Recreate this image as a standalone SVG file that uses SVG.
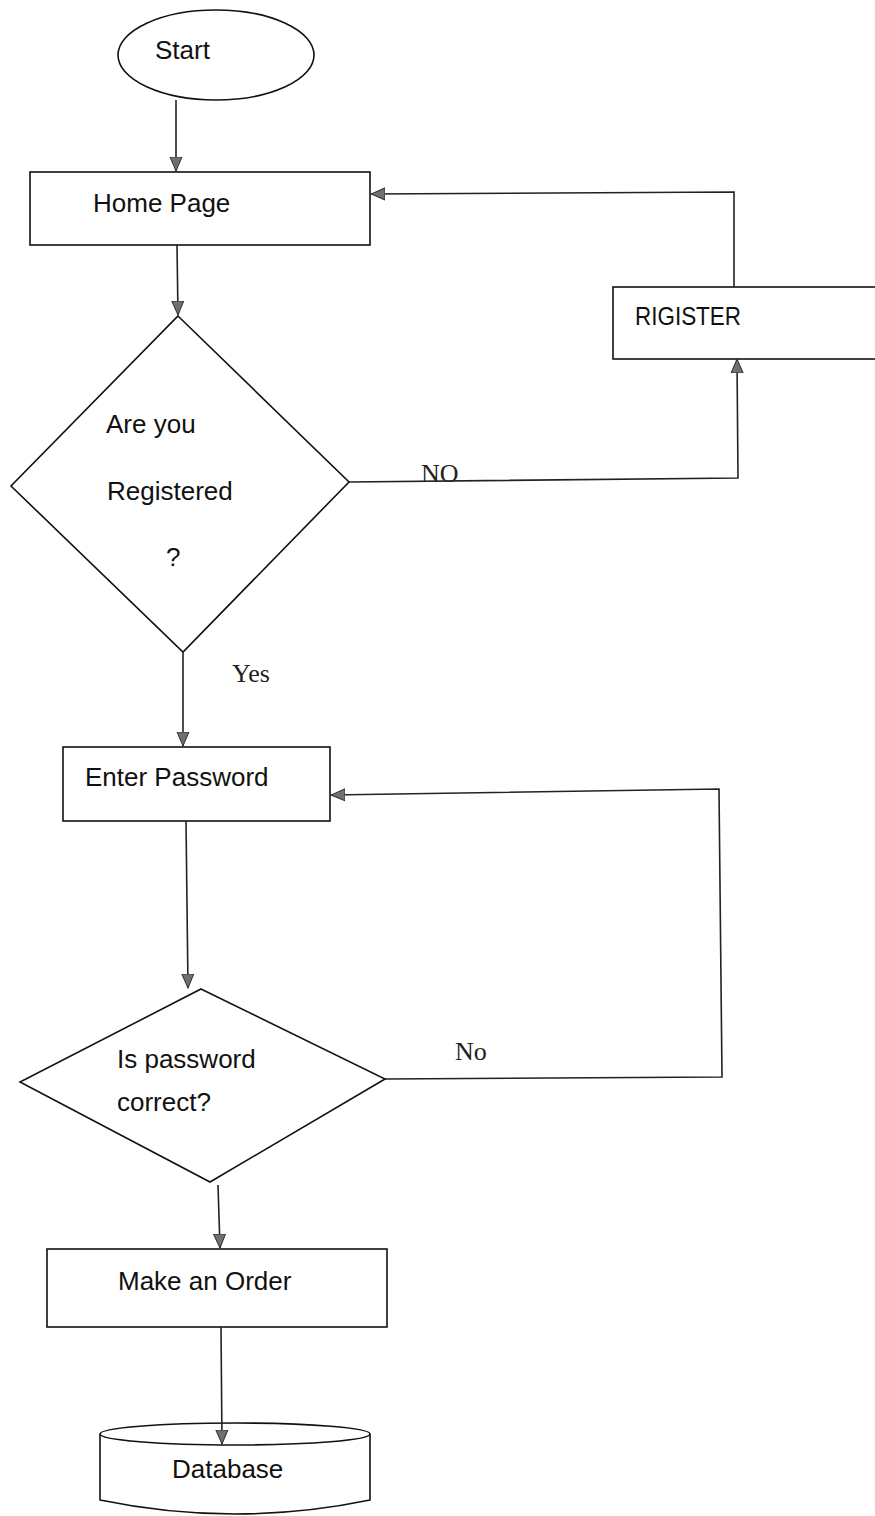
<svg xmlns="http://www.w3.org/2000/svg" width="875" height="1516" viewBox="0 0 875 1516">
<style>
.shape{fill:#fff;stroke:#111;stroke-width:1.6}
.conn{fill:none;stroke:#222;stroke-width:1.6}
.lbl{font-family:"Liberation Sans",Arial,sans-serif;font-size:26px;fill:#111}
.edge{font-family:"Liberation Serif","Times New Roman",serif;font-size:26px;fill:#222}
</style>
<defs>
<marker id="arr" markerUnits="userSpaceOnUse" markerWidth="15" markerHeight="14" refX="14" refY="7" orient="auto">
<path d="M0,1 L14,7 L0,13 z" fill="#707070" stroke="#333" stroke-width="1"/>
</marker>
</defs>
<rect width="875" height="1516" fill="#fff"/>
<g id="start">
<ellipse class="shape" cx="216" cy="55" rx="98" ry="45"/>
<text class="lbl" x="155" y="59">Start</text>
</g>
<g id="home">
<rect class="shape" x="30" y="172" width="340" height="73"/>
<text class="lbl" x="93" y="212">Home Page</text>
</g>
<g id="register">
<rect class="shape" x="613" y="287" width="270" height="72"/>
<text class="lbl" x="635" y="325" textLength="106" lengthAdjust="spacingAndGlyphs">RIGISTER</text>
</g>
<g id="registered">
<polygon class="shape" points="178,316 349,482 183,652 11,486"/>
<text class="lbl" x="106" y="433">Are you</text>
<text class="lbl" x="107" y="500">Registered</text>
<text class="lbl" x="166" y="566" font-size="20">?</text>
</g>
<g id="password">
<rect class="shape" x="63" y="747" width="267" height="74"/>
<text class="lbl" x="85" y="786">Enter Password</text>
</g>
<g id="check">
<polygon class="shape" points="201,989 385,1079 210,1182 20,1082"/>
<text class="lbl" x="117" y="1068">Is password</text>
<text class="lbl" x="117" y="1111">correct?</text>
</g>
<g id="order">
<rect class="shape" x="47" y="1249" width="340" height="78"/>
<text class="lbl" x="118" y="1290">Make an Order</text>
</g>
<g id="database">
<path class="shape" d="M100,1434 L100,1500 Q235,1528 370,1500 L370,1434"/>
<ellipse class="shape" cx="235" cy="1434" rx="135" ry="11"/>
<text class="lbl" x="172" y="1478">Database</text>
</g>
<g id="connectors">
<path class="conn" d="M176,100 L176,171" marker-end="url(#arr)"/>
<path class="conn" d="M177,245 L178,315" marker-end="url(#arr)"/>
<path class="conn" d="M349,482 L738,478 L737,359" marker-end="url(#arr)"/>
<path class="conn" d="M734,287 L734,192 L371,194" marker-end="url(#arr)"/>
<path class="conn" d="M183,652 L183,746" marker-end="url(#arr)"/>
<path class="conn" d="M186,821 L188,988" marker-end="url(#arr)"/>
<path class="conn" d="M385,1079 L722,1077 L719,789 L331,795" marker-end="url(#arr)"/>
<path class="conn" d="M218,1185 L220,1248" marker-end="url(#arr)"/>
<path class="conn" d="M221,1327 L222,1444" marker-end="url(#arr)"/>
<text class="edge" x="421" y="482">NO</text>
<text class="edge" x="232" y="682">Yes</text>
<text class="edge" x="455" y="1060">No</text>
</g>
</svg>
